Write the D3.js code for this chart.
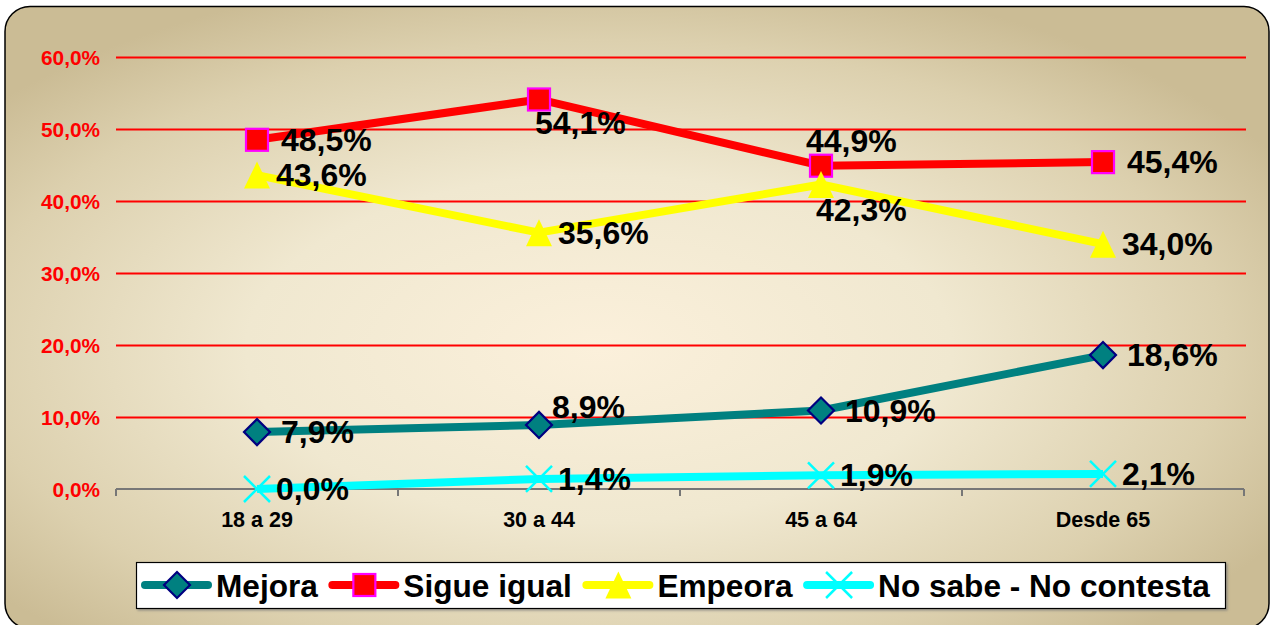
<!DOCTYPE html>
<html><head><meta charset="utf-8">
<script src="https://cdn.jsdelivr.net/npm/d3@7"></script>
<style>
html,body{margin:0;padding:0;background:#fff;}
svg{display:block;}
text{font-family:"Liberation Sans",Arial,Helvetica,sans-serif;font-weight:bold;}
</style></head>
<body>
<script>
// ---- data ----
const categories = ["18 a 29", "30 a 44", "45 a 64", "Desde 65"];
const seriesNames = ["Mejora", "Sigue igual", "Empeora", "No sabe - No contesta"];
const mejora = [0.079, 0.089, 0.109, 0.186];
const sigueIgual = [0.485, 0.541, 0.449, 0.454];
const empeora = [0.436, 0.356, 0.423, 0.340];
const noSabe = [0.000, 0.014, 0.019, 0.021];
const yTicks = [0, 0.1, 0.2, 0.3, 0.4, 0.5, 0.6];

const W = 1273, H = 625;
const svg = d3.select("body").append("svg").attr("width", W).attr("height", H);
const defs = svg.append("defs");
const grad = defs.append("radialGradient").attr("id", "bg")
  .attr("cx", "0.47").attr("cy", "0.55").attr("r", "0.62");
grad.append("stop").attr("offset", "0").attr("stop-color", "#FBF0DB");
grad.append("stop").attr("offset", "0.45").attr("stop-color", "#F0E8D0");
grad.append("stop").attr("offset", "0.8").attr("stop-color", "#DCD0AE");
grad.append("stop").attr("offset", "1").attr("stop-color", "#CBBC95");
const sh = defs.append("filter").attr("id", "sh").attr("x", "-5%").attr("y", "-20%").attr("width", "110%").attr("height", "150%");
sh.append("feDropShadow").attr("dx", 1.5).attr("dy", 1.5).attr("stdDeviation", 0.8).attr("flood-color", "#777").attr("flood-opacity", 0.7);

svg.append("rect").attr("x", 5).attr("y", 6.5).attr("width", 1264).attr("height", 622)
  .attr("rx", 25).attr("ry", 25).attr("fill", "url(#bg)").attr("stroke", "#000").attr("stroke-width", 1.5);

const x = d3.scaleBand().domain(categories).range([116, 1244]).padding(0);
const y = d3.scaleLinear().domain([0, 0.6]).range([489, 57]);
const cx = c => x(c) + x.bandwidth() / 2;
const fmt = v => d3.format(".1f")(v * 100).replace(".", ",") + "%";

// gridlines + y labels
const yAxis = svg.append("g").attr("transform", "translate(116,0)")
  .call(d3.axisLeft(y).tickValues(yTicks).tickSize(-(1246 - 116)).tickPadding(16).tickFormat(fmt));
yAxis.select(".domain").remove();
yAxis.selectAll(".tick line").attr("stroke", "#FF0000").attr("stroke-width", 2.2)
  .filter(d => d === 0).remove();
yAxis.selectAll(".tick text").attr("fill", "#FF0000").attr("font-size", 20.8).attr("dy", "0.36em");

// x axis
const xAxis = svg.append("g").attr("transform", "translate(0,489)")
  .call(d3.axisBottom(x).tickSize(0).tickPadding(23));
xAxis.select(".domain").attr("stroke", "#777").attr("stroke-width", 2).attr("d", "M116,0H1244");
xAxis.selectAll(".tick text").attr("fill", "#000").attr("font-size", 21.5);
const bounds = categories.map(c => x(c)).concat([x.range()[1]]);
xAxis.selectAll(".btick").data(bounds).enter().append("line").attr("class", "btick")
  .attr("x1", d => d).attr("x2", d => d).attr("y1", 0).attr("y2", 7)
  .attr("stroke", "#777").attr("stroke-width", 2);

// markers
const markers = {
  diamond: (g) => g.append("rect").attr("x", -9.2).attr("y", -9.2).attr("width", 18.4).attr("height", 18.4)
    .attr("transform", "rotate(45)").attr("fill", "#008080").attr("stroke", "#000080").attr("stroke-width", 2.2),
  square: (g) => g.append("rect").attr("x", -11).attr("y", -11).attr("width", 22).attr("height", 22)
    .attr("fill", "#FF0000").attr("stroke", "#FF00FF").attr("stroke-width", 2.2),
  triangle: (g) => g.append("path").attr("d", "M0,-13.5L13,13.5L-13,13.5Z").attr("fill", "#FFFF00"),
  cross: (g) => g.append("path").attr("d", "M-13,-13L13,13M13,-13L-13,13").attr("fill", "none")
    .attr("stroke", "#00FFFF").attr("stroke-width", 2.5)
};

const series = [
  {name: seriesNames[0], values: mejora, color: "#008080", marker: "diamond"},
  {name: seriesNames[1], values: sigueIgual, color: "#FF0000", marker: "square"},
  {name: seriesNames[2], values: empeora, color: "#FFFF00", marker: "triangle"},
  {name: seriesNames[3], values: noSabe, color: "#00FFFF", marker: "cross"}
];
// label placement per series/point: r = right, a = above-right, b = below
const placement = [
  ["r", "a", "r", "r"],
  ["r", "b", "a", "r"],
  ["r", "r", "b", "r"],
  ["r", "r", "r", "r"]
];

const line = d3.line().x((d, i) => cx(categories[i])).y(d => y(d));
series.forEach(s => {
  svg.append("path").datum(s.values).attr("d", line).attr("fill", "none")
    .attr("stroke", s.color).attr("stroke-width", 8).attr("stroke-linejoin", "round");
  s.values.forEach((v, i) => {
    const g = svg.append("g").attr("transform", `translate(${cx(categories[i])},${y(v)})`);
    markers[s.marker](g);
  });
});
// data labels
series.forEach((s, si) => {
  s.values.forEach((v, i) => {
    const px = cx(categories[i]), py = y(v);
    const p = placement[si][i];
    let tx, ty, anchor = "start";
    if (p === "r") { tx = px + (s.marker === "triangle" || s.marker === "cross" ? 19 : 24); ty = py + 11; }
    else if (p === "a") { tx = px + 13; ty = py - 7; if (si === 1) { tx = px - 15; ty = py - 14; } }
    else { tx = px - 4; ty = py + 35; if (si === 2) { tx = px - 5; ty = py + 37; } }
    svg.append("text").attr("x", tx).attr("y", ty).attr("font-size", 32).attr("fill", "#000")
      .attr("text-anchor", anchor).text(fmt(v));
  });
});

// legend
svg.append("rect").attr("x", 136.5).attr("y", 562.5).attr("width", 1089).attr("height", 46)
  .attr("fill", "#fff").attr("stroke", "#000").attr("stroke-width", 1.2).attr("filter", "url(#sh)");
let lx = 143;
const ly = 585;
series.forEach(s => {
  const g = svg.append("g");
  g.append("line").attr("x1", lx + 2).attr("x2", lx + 65).attr("y1", ly).attr("y2", ly)
    .attr("stroke", s.color).attr("stroke-width", 8).attr("stroke-linecap", "round");
  const m = g.append("g").attr("transform", `translate(${lx + 34},${ly})`);
  markers[s.marker](m);
  const t = g.append("text").attr("x", lx + 73).attr("y", ly + 11.5).attr("font-size", 31.6).attr("fill", "#000").text(s.name);
  lx = lx + 73 + t.node().getComputedTextLength() + 12.5;
});
</script>
</body></html>
